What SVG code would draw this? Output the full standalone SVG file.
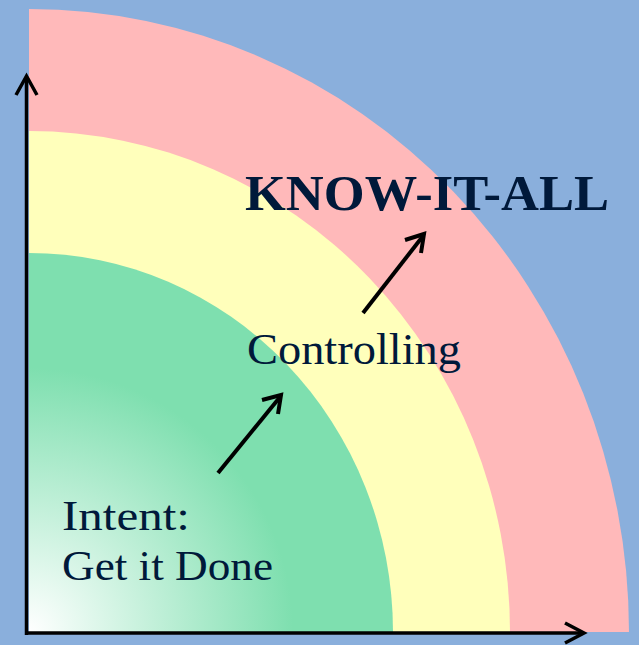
<svg xmlns="http://www.w3.org/2000/svg" width="639" height="645" viewBox="0 0 639 645">
<defs>
<radialGradient id="gg" gradientUnits="userSpaceOnUse" cx="29" cy="632" r="330">
<stop offset="0" stop-color="#ffffff"/>
<stop offset="0.8" stop-color="#7edfaf"/>
<stop offset="1" stop-color="#7edfaf"/>
</radialGradient>
<style>
.ax{fill:none;stroke:#000;stroke-width:3.5;stroke-linecap:butt;stroke-linejoin:miter}
.ar{fill:none;stroke:#000;stroke-width:4;stroke-linecap:butt;stroke-linejoin:miter}
.t{font-family:"Liberation Serif","Times New Roman",serif;fill:#00193a}
</style>
</defs>
<rect x="0" y="0" width="639" height="645" fill="#8aafdc"/>
<g id="pink-band"><path d="M29,632 L29,9 A600,623 0 0 1 629,632 Z" fill="#ffb9ba"/></g>
<g id="yellow-band"><path d="M29,632 L29,131 A481,501 0 0 1 510,632 Z" fill="#ffffbb"/></g>
<g id="green-core"><path d="M29,632 L29,253 A364,379 0 0 1 393,632 Z" fill="url(#gg)"/></g>
<g id="axes">
<path class="ax" d="M26.5,635 L26.5,77"/>
<path class="ax" d="M16,95 L26.5,76 L37,95"/>
<path class="ax" d="M25,633 L583,633"/>
<path class="ax" d="M565,623 L584,633 L565,643"/>
</g>
<g id="connectors">
<path class="ar" d="M218,473 L280,397"/>
<path class="ar" d="M262,400 L281,395 L278,414"/>
<path class="ar" d="M363,313 L423,236"/>
<path class="ar" d="M405,240 L424,234 L421,253"/>
</g>
<g id="label-know"><text class="t" x="245" y="210" font-size="50" font-weight="bold" textLength="364" lengthAdjust="spacingAndGlyphs">KNOW-IT-ALL</text></g>
<g id="label-controlling"><text class="t" x="247" y="364" font-size="44" textLength="214" lengthAdjust="spacingAndGlyphs">Controlling</text></g>
<g id="label-intent">
<text class="t" x="62" y="530" font-size="42" textLength="128" lengthAdjust="spacingAndGlyphs">Intent:</text>
<text class="t" x="62" y="580" font-size="42" textLength="211" lengthAdjust="spacingAndGlyphs">Get it Done</text>
</g>
</svg>
